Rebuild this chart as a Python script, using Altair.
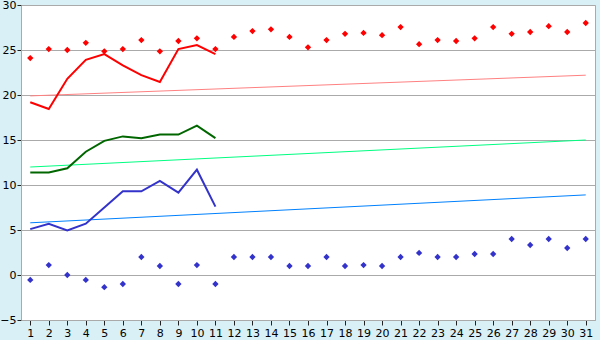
import altair as alt
import pandas as pd

days = list(range(1, 32))

red_points = [24.1, 25.1, 25.0, 25.8, 24.85, 25.1, 26.1, 24.85, 26.0, 26.3, 25.1,
              26.45, 27.1, 27.3, 26.45, 25.3, 26.1, 26.8, 26.9, 26.65, 27.55,
              25.65, 26.1, 26.0, 26.3, 27.55, 26.8, 27.0, 27.65, 27.0, 28.0]
blue_points = [-0.55, 1.1, 0.0, -0.55, -1.35, -1.0, 2.0, 1.0, -1.0, 1.1, -1.0,
               2.0, 2.0, 2.0, 1.0, 1.0, 2.0, 1.0, 1.1, 1.0, 2.0,
               2.45, 2.0, 2.0, 2.33, 2.33, 4.0, 3.33, 4.0, 3.0, 4.0]

line_days = list(range(1, 12))
red_line = [19.2, 18.45, 21.8, 23.9, 24.55, 23.3, 22.2, 21.45, 25.1, 25.55, 24.55]
green_line = [11.4, 11.4, 11.85, 13.7, 14.9, 15.4, 15.2, 15.6, 15.6, 16.6, 15.2]
blue_line = [5.1, 5.7, 4.95, 5.7, 7.5, 9.3, 9.3, 10.45, 9.15, 11.7, 7.6]

trend_days = [1, 31]
red_trend = [19.9, 22.2]
green_trend = [12.0, 15.0]
blue_trend = [5.8, 8.9]

xscale = alt.Scale(domain=[0.5, 31.5], nice=False, zero=False)
yscale = alt.Scale(domain=[-5, 30], nice=False, zero=False)

xenc = alt.X("day:Q", scale=xscale, title=None,
             axis=alt.Axis(values=days, grid=False, tickSize=5, labelPadding=2,
                           format="d"))
yenc = alt.Y("v:Q", scale=yscale, title=None,
             axis=alt.Axis(values=list(range(-5, 31, 5)), grid=True, tickSize=4,
                           labelPadding=1, gridColor="#aaaaaa"))


def df(xs, ys):
    return pd.DataFrame({"day": xs, "v": ys})


def line(xs, ys, color, w):
    return alt.Chart(df(xs, ys)).mark_line(color=color, strokeWidth=w, clip=True).encode(x=xenc, y=yenc)


def pts(xs, ys, color):
    return alt.Chart(df(xs, ys)).mark_point(shape="diamond", filled=True, size=40,
                                            color=color, opacity=1).encode(x=xenc, y=yenc)


chart = alt.layer(
    line(trend_days, red_trend, "#ff8080", 1),
    line(trend_days, green_trend, "#00ff80", 1),
    line(trend_days, blue_trend, "#0080ff", 1),
    line(line_days, red_line, "#ff0000", 2),
    line(line_days, green_line, "#006600", 2),
    line(line_days, blue_line, "#3333cc", 2),
    pts(days, red_points, "#ff0000"),
    pts(days, blue_points, "#3333cc"),
).properties(
    width=574, height=315,
    background="#d9f0f7",
    padding={"left": 21, "top": 5, "right": 5, "bottom": 20},
    autosize=alt.AutoSizeParams(type="none"),
).configure_view(
    fill="white", stroke="#aaaaaa", strokeWidth=1
).configure_axis(
    labelFont="DejaVu Sans", labelFontSize=11, labelColor="black",
    domainColor="#aaaaaa", tickColor="#222222", domainWidth=1
)

chart.save("out.html", embed_options={"renderer": "svg", "actions": False})
